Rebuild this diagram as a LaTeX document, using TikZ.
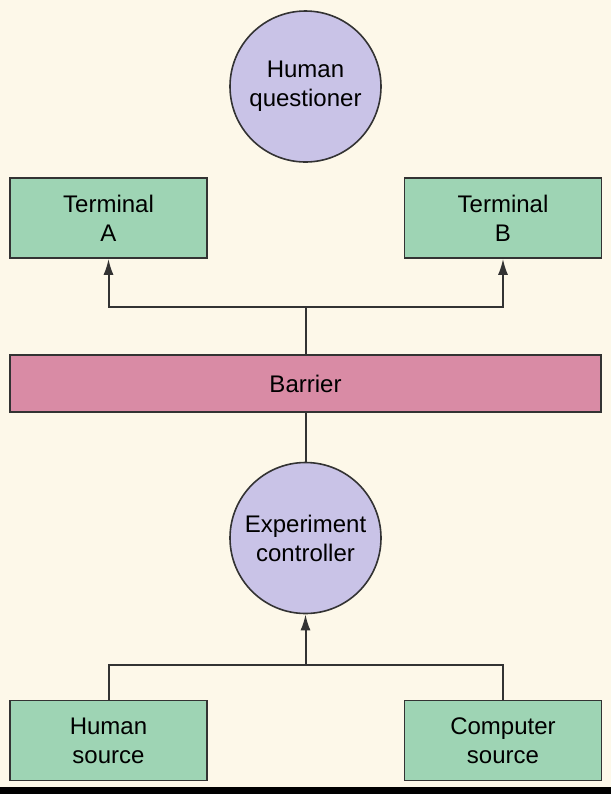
\documentclass[tikz,border=0pt]{standalone}
\usepackage{fontspec}
\setmainfont{Liberation Sans}
\usetikzlibrary{arrows.meta}

\definecolor{paper}{HTML}{FDF8E9}
\definecolor{boxgreen}{HTML}{9ED4B4}
\definecolor{circlepurple}{HTML}{C9C3E7}
\definecolor{barrierpink}{HTML}{D98BA5}
\definecolor{edge}{HTML}{333333}

\begin{document}
\begin{tikzpicture}[x=0.5pt, y=-0.5pt,
        every node/.style={font=\fontsize{12}{14.5}\selectfont, align=center, text=black},
        station/.style={draw=edge, line width=0.8pt, fill=boxgreen, minimum width=98.5pt, minimum height=40pt, inner sep=0pt},
        agent/.style={circle, draw=edge, line width=0.8pt, fill=circlepurple, minimum size=75.5pt, inner sep=0pt},
        wire/.style={draw=edge, line width=1pt},
        feed/.style={wire, -{Latex[length=8pt, width=5pt]}}]
    % page
    \fill[paper] (0,0) rectangle (611,794);
    \fill[black] (0,787) rectangle (611,794);
    \useasboundingbox (0,0) rectangle (611,794);

    \node(questioner) at(305.5, 86.5) [agent]   {Human\\questioner};
    \node(term_a)     at(108.5, 218) [station] {Terminal\\A};
    \node(term_b)     at(503, 218)   [station] {Terminal\\B};
    \node(barrier)    at(305.5, 383.5) [draw=edge, line width=0.8pt, fill=barrierpink, minimum width=295.5pt, minimum height=28.5pt, inner sep=0pt] {Barrier};
    \node(controller) at(305.5, 538) [agent]   {Experiment\\controller};
    \node(human_src)  at(108.5, 740.5) [station] {Human\\source};
    \node(comp_src)   at(503, 740.5)   [station] {Computer\\source};

    \coordinate(split_top) at(305.5, 307);
    \coordinate(split_bot) at(305.5, 665);

    % barrier up to the terminals
    \draw[wire] (barrier.north) -- (split_top);
    \draw[feed] (split_top) -| (term_a.south);
    \draw[feed] (split_top) -| (term_b.south);
    % controller to barrier
    \draw[wire] (controller.north) -- (barrier.south);
    % sources into the controller
    \draw[wire] (human_src.north) |- (split_bot) -| (comp_src.north);
    \draw[feed] (split_bot) -- (controller.south);
\end{tikzpicture}
\end{document}
